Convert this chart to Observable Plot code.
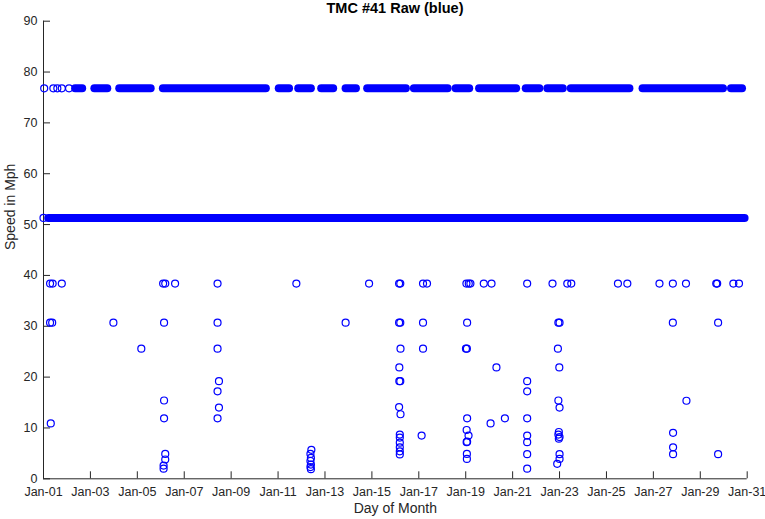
<!DOCTYPE html>
<html>
<head>
<meta charset="utf-8">
<script src="https://cdn.jsdelivr.net/npm/d3@7"></script>
<script src="https://cdn.jsdelivr.net/npm/@observablehq/plot@0.6"></script>
<style>
  body { margin: 0; background: #fff; font-family: "Liberation Sans", Arial, sans-serif; }
  #title { box-sizing: border-box; width: 765px; padding-left: 25px; height: 16px; line-height: 16px;
           text-align: center; font-weight: bold; font-size: 14.5px; color: #000; }
</style>
</head>
<body>
<div id="title">TMC #41 Raw (blue)</div>
<div id="chart"></div>
<script>
// ---- tick values ----
const xTicks = [1, 3, 5, 7, 9, 11, 13, 15, 17, 19, 21, 23, 25, 27, 29, 31];
const yTicks = [0, 10, 20, 30, 40, 50, 60, 70, 80, 90];

// ---- dense readings: continuous runs of samples (day start, day end) at a constant speed ----
const topLevelMph = 76.8;
const topRuns = [
  [2.37, 2.67], [3.19, 3.74], [4.25, 5.59], [6.11, 10.50], [11.05, 11.49], [11.88, 12.42],
  [12.86, 13.37], [13.90, 14.34], [14.82, 16.47], [16.81, 18.25], [18.59, 19.17], [19.59, 21.17],
  [21.58, 22.16], [22.50, 23.16], [23.50, 26.00], [26.56, 29.99], [30.33, 30.80]
];
const midLevelMph = 51.3;
const midRuns = [[1.22, 30.91]];

// ---- isolated readings on the band levels (day, mph) ----
const bandSingles = [
  [1.03, 76.8], [1.42, 76.8], [1.59, 76.8], [1.78, 76.8], [2.09, 76.8],
  [1.0, 51.3]
];

// ---- other readings (day, mph) ----
const lowReadings = [
  [1.28, 38.4], [1.39, 38.4], [1.78, 38.4], [1.28, 30.7], [1.37, 30.7], [1.31, 10.9],
  [3.98, 30.7], [5.17, 25.6],
  [6.10, 38.4], [6.19, 38.4], [6.61, 38.4], [6.14, 30.7], [6.14, 15.4], [6.14, 11.9],
  [6.19, 4.9], [6.19, 3.8], [6.12, 2.6], [6.12, 2.0],
  [8.42, 38.4], [8.42, 30.7], [8.42, 25.6], [8.48, 19.2], [8.42, 17.2], [8.48, 14.0], [8.42, 11.9],
  [11.78, 38.4], [13.88, 30.7], [14.88, 38.4],
  [12.42, 5.7], [12.38, 4.9], [12.40, 4.1], [12.38, 3.5], [12.40, 2.8], [12.38, 2.3], [12.40, 1.9],
  [16.16, 38.4], [16.21, 38.4], [16.16, 30.7], [16.21, 30.7], [16.22, 25.6], [16.17, 21.9],
  [16.17, 19.2], [16.21, 19.2], [16.16, 14.1], [16.22, 12.7],
  [16.19, 8.7], [16.19, 8.1], [16.19, 7.1], [16.19, 6.2], [16.19, 5.4], [16.19, 4.8],
  [17.18, 38.4], [17.35, 38.4], [17.18, 30.7], [17.18, 25.6], [17.12, 8.5],
  [19.03, 38.4], [19.13, 38.4], [19.20, 38.4], [19.06, 30.7], [19.01, 25.6], [19.05, 25.6],
  [19.06, 11.9], [19.04, 9.6], [19.12, 8.5], [19.04, 7.2], [19.06, 7.3], [19.05, 4.9], [19.05, 3.9],
  [19.77, 38.4], [20.10, 38.4], [20.31, 21.9], [20.06, 10.9], [20.67, 11.9],
  [21.62, 38.4], [21.62, 19.2], [21.62, 17.2], [21.62, 11.9], [21.62, 8.5], [21.62, 7.2],
  [21.62, 4.85], [21.62, 2.0],
  [22.70, 38.4], [23.33, 38.4], [23.50, 38.4], [22.95, 30.7], [23.00, 30.7], [22.93, 25.6],
  [22.99, 21.9], [22.95, 15.4], [23.00, 14.0], [22.97, 9.2], [22.95, 8.7], [23.00, 8.2],
  [22.97, 7.9], [23.00, 4.85], [23.00, 3.9], [22.90, 2.95],
  [25.49, 38.4], [25.89, 38.4], [27.26, 38.4], [27.83, 38.4], [28.39, 38.4],
  [29.68, 38.4], [29.72, 38.4], [30.41, 38.4], [30.65, 38.4],
  [27.83, 30.7], [29.76, 30.7],
  [27.84, 9.05], [27.84, 6.2], [27.84, 4.85], [28.41, 15.35], [29.76, 4.85]
];

// ---- build tables ----
const runs = [
  ...topRuns.map(([a, b]) => ({start: a, end: b, mph: topLevelMph})),
  ...midRuns.map(([a, b]) => ({start: a, end: b, mph: midLevelMph}))
];
const points = [...bandSingles, ...lowReadings].map(([d, v]) => ({day: d, mph: v}));

const W = 765, H = 503, mL = 43, mR = 18.3, mT = 4.7, mB = 40.7;
const plotW = W - mL - mR, plotH = H - mT - mB;
const axisColor = "#262626";
const fmt = d => "Jan-" + String(d).padStart(2, "0");

const chart = Plot.plot({
  width: W, height: H,
  marginLeft: mL, marginRight: mR, marginTop: mT, marginBottom: mB,
  style: {fontFamily: "'Liberation Sans', Arial, sans-serif", fontSize: "12.5px", color: axisColor,
          background: "white", overflow: "visible"},
  x: {domain: [1, 31], ticks: xTicks, tickFormat: fmt, label: null},
  y: {domain: [0, 90], ticks: yTicks, label: null},
  marks: [
    Plot.axisX({ticks: xTicks, tickFormat: fmt, tickSize: 0, tickPadding: 8, label: null}),
    Plot.axisY({ticks: yTicks, tickSize: 0, tickPadding: 6, fontSize: 12.5, label: null}),
    Plot.tickX(xTicks, {x: d => d, stroke: axisColor, insetTop: plotH - 7}),
    Plot.tickY(yTicks, {y: d => d, stroke: axisColor, insetRight: plotW - 7}),
    Plot.ruleX([1], {stroke: axisColor}),
    Plot.ruleY([0], {stroke: axisColor}),
    Plot.ruleY(runs, {x1: "start", x2: "end", y: "mph", stroke: "#0000ff", strokeWidth: 8, strokeLinecap: "round"}),
    Plot.dot(points, {x: "day", y: "mph", r: 3.5, stroke: "#0000ff", strokeWidth: 1.2, fill: "none"}),
    Plot.text(["Day of Month"], {text: d => d, frameAnchor: "bottom", lineAnchor: "middle", dy: 29.5, fontSize: 14, fill: axisColor}),
    Plot.text(["Speed in Mph"], {text: d => d, frameAnchor: "left", lineAnchor: "middle", rotate: -90, dx: -33, fontSize: 14, fill: axisColor})
  ]
});
document.getElementById("chart").appendChild(chart);
</script>
</body>
</html>
